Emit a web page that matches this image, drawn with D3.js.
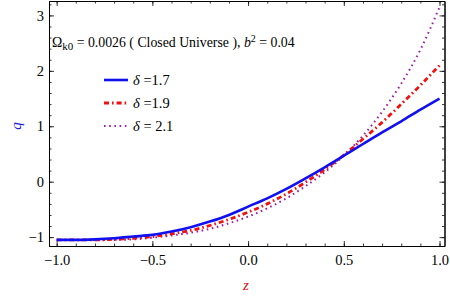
<!DOCTYPE html>
<html>
<head>
<meta charset="utf-8">
<script src="https://cdn.jsdelivr.net/npm/d3@7"></script>
<style>
  body { margin: 0; background: #fff; }
  svg { display: block; }
</style>
</head>
<body>
<div id="chart"></div>
<script>
// data
var zValues = [-1.0, -0.9, -0.8, -0.7, -0.6, -0.5, -0.4, -0.3, -0.2, -0.1, 0.0,
               0.1, 0.2, 0.3, 0.4, 0.5, 0.6, 0.7, 0.8, 0.9, 1.0];
var qDelta17 = [-1.05, -1.05, -1.04, -1.02, -0.99, -0.96, -0.90, -0.82, -0.72, -0.60, -0.45,
                -0.30, -0.13, 0.06, 0.26, 0.47, 0.68, 0.89, 1.09, 1.30, 1.50];
var qDelta19 = [-1.05, -1.05, -1.05, -1.04, -1.02, -0.99, -0.94, -0.88, -0.79, -0.68, -0.55,
                -0.40, -0.22, -0.01, 0.22, 0.48, 0.77, 1.07, 1.40, 1.74, 2.10];
var qDelta21 = [-1.05, -1.05, -1.05, -1.05, -1.04, -1.01, -0.97, -0.92, -0.85, -0.75, -0.63,
                -0.48, -0.30, -0.08, 0.17, 0.47, 0.83, 1.26, 1.77, 2.38, 3.15];
var legendLabels = ["\u03B4 =1.7", "\u03B4 =1.9", "\u03B4 = 2.1"];
var xTicks = [-1.0, -0.5, 0.0, 0.5, 1.0];
var yTicks = [-1, 0, 1, 2, 3];

var serif = "'Liberation Serif', 'Times New Roman', serif";

// series styles
var series = [
	{ q: qDelta17, label: legendLabels[0], color: "#1010f0", width: 2.6, dash: null },
	{ q: qDelta19, label: legendLabels[1], color: "#f01010", width: 2.8, dash: "5,3,1.6,3" },
	{ q: qDelta21, label: legendLabels[2], color: "#9a1ea8", width: 2, dash: "1.6,3.6" }
];

var width = 450, height = 296;
var frame = {left: 49, right: 444.5, top: 1, bottom: 246};

var svg = d3.select("#chart").append("svg")
	.attr("width", width)
	.attr("height", height)
	.style("font-family", serif);

var x = d3.scaleLinear().domain([-1.04, 1.026]).range([frame.left, frame.right]),
	y = d3.scaleLinear().domain([-1.16, 3.26]).range([frame.bottom, frame.top]);

var xMinor = d3.range(-10, 11).map(function(d){ return d / 10; });
var yMinor = d3.range(-5, 17).map(function(d){ return d / 5; });

// frame axes, ticks pointing inward
function styleAxis(g){
	g.selectAll("path.domain").attr("stroke", "#000").attr("stroke-width", 1);
	g.selectAll(".tick line").attr("stroke", "#000").attr("stroke-width", 0.8);
	g.selectAll(".tick text")
		.attr("fill", "#000")
		.style("font-family", serif)
		.style("font-size", "14.5px");
}

svg.append("g")
	.attr("transform", "translate(0," + frame.bottom + ")")
	.call(d3.axisBottom(x).tickValues(xMinor).tickSize(-2.5).tickFormat("").tickSizeOuter(0))
	.call(styleAxis);
svg.append("g")
	.attr("transform", "translate(0," + frame.bottom + ")")
	.call(d3.axisBottom(x).tickValues(xTicks).tickSize(-5).tickPadding(9).tickSizeOuter(0)
		.tickFormat(d3.format(".1f")))
	.call(styleAxis);

svg.append("g")
	.attr("transform", "translate(0," + frame.top + ")")
	.call(d3.axisTop(x).tickValues(xMinor).tickSize(-2.5).tickFormat("").tickSizeOuter(0))
	.call(styleAxis);
svg.append("g")
	.attr("transform", "translate(0," + frame.top + ")")
	.call(d3.axisTop(x).tickValues(xTicks).tickSize(-5).tickFormat("").tickSizeOuter(0))
	.call(styleAxis);

svg.append("g")
	.attr("transform", "translate(" + frame.left + ",0)")
	.call(d3.axisLeft(y).tickValues(yMinor).tickSize(-2.5).tickFormat("").tickSizeOuter(0))
	.call(styleAxis);
svg.append("g")
	.attr("transform", "translate(" + frame.left + ",0)")
	.call(d3.axisLeft(y).tickValues(yTicks).tickSize(-5).tickPadding(5).tickSizeOuter(0)
		.tickFormat(d3.format("d")))
	.call(styleAxis);

svg.append("g")
	.attr("transform", "translate(" + frame.right + ",0)")
	.call(d3.axisRight(y).tickValues(yMinor).tickSize(-2.5).tickFormat("").tickSizeOuter(0))
	.call(styleAxis);
svg.append("g")
	.attr("transform", "translate(" + frame.right + ",0)")
	.call(d3.axisRight(y).tickValues(yTicks).tickSize(-5).tickFormat("").tickSizeOuter(0))
	.call(styleAxis);

// curves
svg.append("clipPath").attr("id", "clip")
	.append("rect")
	.attr("x", frame.left).attr("y", frame.top)
	.attr("width", frame.right - frame.left).attr("height", frame.bottom - frame.top);

var line = d3.line()
	.x(function(d){ return x(d[0]); })
	.y(function(d){ return y(d[1]); })
	.curve(d3.curveMonotoneX);

var plot = svg.append("g").attr("clip-path", "url(#clip)");

series.slice().reverse().forEach(function(s){
	plot.append("path")
		.datum(zValues.map(function(z, i){ return [z, s.q[i]]; }))
		.attr("fill", "none")
		.attr("stroke", s.color)
		.attr("stroke-width", s.width)
		.attr("stroke-dasharray", s.dash)
		.attr("d", line);
});

// annotation
var note = svg.append("text")
	.attr("x", 52)
	.attr("y", 47)
	.style("font-family", serif)
	.style("font-size", "13.8px");
note.append("tspan").text("\u03A9");
note.append("tspan").attr("dy", 3).style("font-size", "11px").text("k0");
note.append("tspan").attr("dy", -3).text(" = 0.0026 ( Closed Universe ),  ");
note.append("tspan").style("font-style", "italic").text("b");
note.append("tspan").attr("dy", -5).style("font-size", "10px").text("2");
note.append("tspan").attr("dy", 5).text(" = 0.04");

// legend
var legend = svg.append("g");
var legendY = [80, 103, 126];

series.forEach(function(s, i){
	legend.append("line")
		.attr("x1", 104).attr("x2", 128)
		.attr("y1", legendY[i]).attr("y2", legendY[i])
		.attr("stroke", s.color)
		.attr("stroke-width", s.width)
		.attr("stroke-dasharray", s.dash);

	var t = legend.append("text")
		.attr("x", 133)
		.attr("y", legendY[i] + 5)
		.style("font-family", serif)
		.style("font-size", "14.5px");
	t.append("tspan").style("font-style", "italic").text(s.label.charAt(0));
	t.append("tspan").text(s.label.slice(1));
});

// axis labels
svg.append("text")
	.attr("transform", "translate(21,126) rotate(-90)")
	.attr("text-anchor", "middle")
	.style("font-family", serif)
	.style("font-style", "italic")
	.style("font-size", "15px")
	.attr("fill", "#1a1ae0")
	.text("q");

svg.append("text")
	.attr("x", 246)
	.attr("y", 290)
	.attr("text-anchor", "middle")
	.style("font-family", serif)
	.style("font-style", "italic")
	.style("font-size", "15px")
	.attr("fill", "#e01010")
	.text("z");
</script>
</body>
</html>
